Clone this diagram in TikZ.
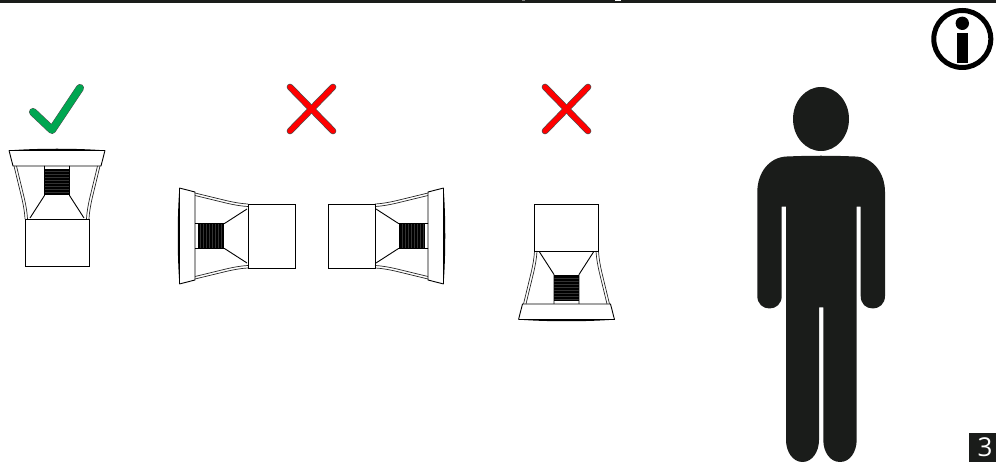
\documentclass[tikz,border=0pt]{standalone}
\usepackage{fontspec}
\setmainfont{Open Sans}
\definecolor{ink}{HTML}{1A1C1A}
\definecolor{okgreen}{HTML}{00A651}
\tikzset{
  x=1pt,y=1pt,
  thinline/.style={draw=black,line width=0.9pt},
  hornline/.style={draw=black!85,line width=0.7pt},
  silhouette/.style={fill=ink,draw=none},
}
\newcommand{\hornunit}[3]{%
  \begin{scope}[shift={(#1,#2)},rotate=#3]
    % magnet
    \fill[black] (-12.5,24) rectangle (12.5,50);
    \foreach \yy in {27,30,...,48} {\draw[black!80,line width=0.15pt] (-12.5,\yy) -- (12.5,\yy);}
    % flange
    \fill[black] (-48,68.6) .. controls (-20,70.8) and (20,70.8) .. (48,68.6) .. controls (20,69.4) and (-20,69.4) .. (-48,68.6) -- cycle;
    \draw[thinline] (-48,68.6) -- (48,68.6);
    \draw[thinline] (-48,68.6) -- (-44,53) -- (44,53) -- (48,68.6);
    % horn walls
    \draw[hornline] (-43,53) -- (-35,20) .. controls (-33.5,13) and (-32.5,8) .. (-32,0);
    \draw[hornline] (-40.5,53) -- (-32.5,20) .. controls (-31,13) and (-30,8) .. (-29.5,0);
    \draw[hornline] (43,53) -- (35,20) .. controls (33.5,13) and (32.5,8) .. (32,0);
    \draw[hornline] (40.5,53) -- (32.5,20) .. controls (31,13) and (30,8) .. (29.5,0);
    % cone
    \draw[thinline] (-12.5,53) -- (-12.5,23.5) -- (-27,1);
    \draw[thinline] (12.5,53) -- (12.5,23.5) -- (27,1);
    % box
    \draw[thinline] (-32,0) rectangle (32,-47);
  \end{scope}%
}
\begin{document}
\begin{tikzpicture}
  \useasboundingbox (0,0) rectangle (996,-462);
  % top rule
  \fill[ink] (0,0) rectangle (996,-2.6);
  \fill[gray] (522,0) rectangle (525,-1.2);
  \fill[white] (615,0) rectangle (621,-1.2);

  % marks
  \draw[black!70,line width=8pt,line cap=round,line join=round] (33,-112) -- (52,-130) -- (80,-88);
  \draw[okgreen,line width=7pt,line cap=round,line join=round] (33,-112) -- (52,-130) -- (80,-88);
  \foreach \cx in {311.5,566.5} {
    \draw[black!70,line width=6.6pt,line cap=round] (\cx-21.5,-87) -- (\cx+21.5,-131);
    \draw[black!70,line width=6.6pt,line cap=round] (\cx+21.5,-87) -- (\cx-21.5,-131);
    \draw[red,line width=5.2pt,line cap=round] (\cx-21.5,-87) -- (\cx+21.5,-131);
    \draw[red,line width=5.2pt,line cap=round] (\cx+21.5,-87) -- (\cx-21.5,-131);
  }

  % units
  \hornunit{57}{-219}{0}
  \hornunit{248}{-236}{90}
  \hornunit{375}{-236}{-90}
  \hornunit{566.5}{-251}{180}

  % info symbol
  \draw[black,line width=5pt] (962.3,-39) circle (28.5);
  \fill[black] (962.3,-23.3) circle (6.7);
  \fill[black] (956.7,-32.7) rectangle (968.3,-62.7);

  % person
  \fill[silhouette] (821,-119) ellipse (28 and 32);
  \fill[silhouette]
    (787,-156.5) .. controls (810,-155.5) and (832,-155.5) .. (855,-156.5)
    .. controls (873,-157) and (885,-173) .. (885,-192)
    -- (885,-296) .. controls (885,-304) and (879,-308.5) .. (873,-308.5)
    .. controls (866,-308.5) and (860.7,-304) .. (860.7,-296)
    -- (860.7,-206.7) -- (856.7,-206.7)
    -- (856.7,-440) .. controls (856.5,-452) and (850,-462) .. (840,-462)
    .. controls (830,-462) and (823.3,-452) .. (823.3,-440)
    -- (823.3,-307.5) -- (819,-307.5)
    -- (819,-440) .. controls (819,-452) and (812,-462) .. (802.5,-462)
    .. controls (793,-462) and (786,-452) .. (786,-440)
    -- (786,-206.7) -- (781.7,-206.7)
    -- (781.7,-296) .. controls (781.7,-304) and (776,-308.5) .. (769.5,-308.5)
    .. controls (763,-308.5) and (757.3,-304) .. (757.3,-296)
    -- (757.3,-192) .. controls (757.3,-173) and (769,-157) .. (787,-156.5) -- cycle;

  % page number
  \fill[ink] (969.3,-433.3) rectangle (996,-462);
  \node[text=white,font=\fontsize{26}{26}\selectfont,inner sep=0pt] (pagenum) at (985,-447.5) {3};
\end{tikzpicture}
\end{document}
